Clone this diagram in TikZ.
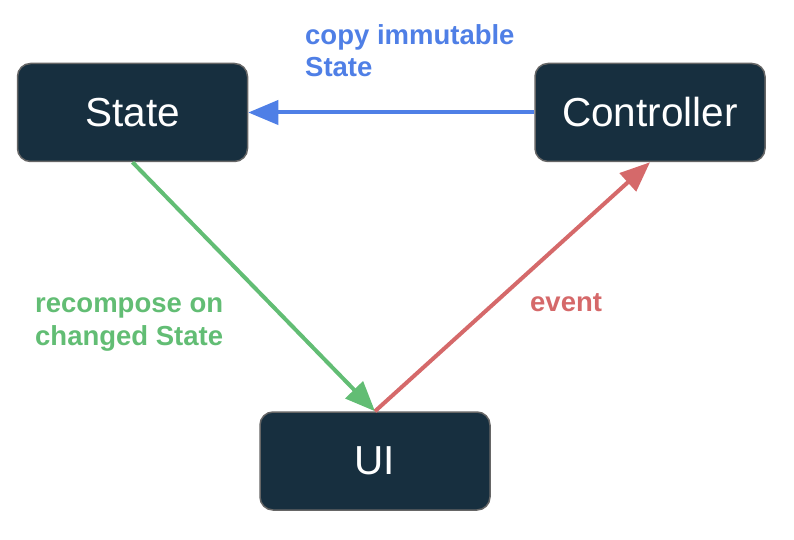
\documentclass[tikz,border=0pt]{standalone}
\usepackage{fontspec}
\setmainfont{Liberation Sans}
\usetikzlibrary{arrows.meta}
\definecolor{boxfill}{HTML}{172F3F}
\definecolor{boxline}{HTML}{666666}
\definecolor{cblue}{HTML}{4F7FE6}
\definecolor{cgreen}{HTML}{62BD74}
\definecolor{cred}{HTML}{D5696A}
\tikzset{
  box/.style={draw=boxline, line width=1.5pt, fill=boxfill, rounded corners=13pt,
    minimum width=230pt, minimum height=98pt, text=white,
    font=\fontsize{40.5}{46}\selectfont, inner sep=0pt},
  conn/.style={line width=4pt, -{Triangle[length=30pt,width=24pt]}},
  lbl/.style={font=\fontsize{27.5}{32.5}\selectfont\bfseries, align=left, inner sep=0pt, anchor=base west}
}
\begin{document}
\begin{tikzpicture}[x=1pt,y=-1pt]
\useasboundingbox (0,0) rectangle (794,540);
\node[box] (state) at (132.5,112.5) {State};
\node[box] (ctrl) at (650,112.5) {Controller};
\node[box] (ui) at (375,461) {UI};
\draw[conn, cblue] (ctrl.west) -- (state.east);
\draw[conn, cgreen] (state.south) -- (ui.north);
\draw[conn, cred] (ui.north) -- (ctrl.south);
\node[lbl, text=cblue] (lblue) at (305,77) {copy immutable\\State};
\node[lbl, text=cgreen] (lgreen) at (35,345) {recompose on\\changed State};
\node[lbl, text=cred] (lred) at (530,311) {event};
\end{tikzpicture}
\end{document}
